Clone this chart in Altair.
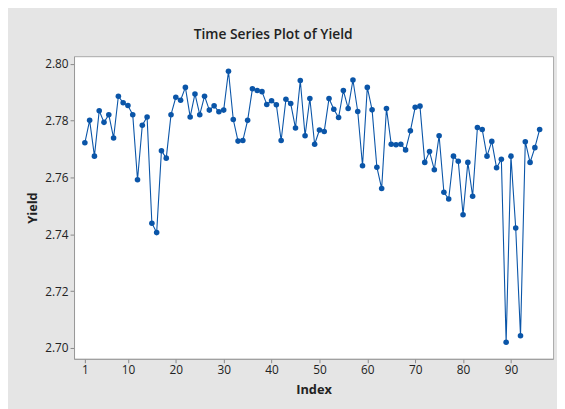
import altair as alt
import pandas as pd

index = list(range(1, 97))
yield_values = [
    2.7722, 2.7801, 2.7675, 2.7835, 2.7794, 2.7821, 2.7739, 2.7886, 2.7863, 2.7853,
    2.7821, 2.7592, 2.7784, 2.7813, 2.7439, 2.7406, 2.7694, 2.7668, 2.7821, 2.7882,
    2.7872, 2.7917, 2.7813, 2.7894, 2.7821, 2.7886, 2.7837, 2.7852, 2.7831, 2.7837,
    2.7974, 2.7804, 2.7728, 2.7730, 2.7801, 2.7912, 2.7906, 2.7902, 2.7857, 2.7870,
    2.7856, 2.7730, 2.7875, 2.7860, 2.7774, 2.7941, 2.7747, 2.7878, 2.7717, 2.7767,
    2.7762, 2.7878, 2.7840, 2.7811, 2.7906, 2.7843, 2.7943, 2.7832, 2.7641, 2.7917,
    2.7838, 2.7636, 2.7561, 2.7843, 2.7717, 2.7715, 2.7717, 2.7697, 2.7764, 2.7847,
    2.7851, 2.7653, 2.7691, 2.7627, 2.7747, 2.7548, 2.7524, 2.7675, 2.7657, 2.7469,
    2.7653, 2.7534, 2.7776, 2.7769, 2.7675, 2.7727, 2.7634, 2.7664, 2.7020, 2.7675,
    2.7422, 2.7043, 2.7726, 2.7653, 2.7705, 2.7769,
]
x_ticks = [1, 10, 20, 30, 40, 50, 60, 70, 80, 90]
y_ticks = [2.70, 2.72, 2.74, 2.76, 2.78, 2.80]

df = pd.DataFrame({"Index": index, "Yield": yield_values})

blue = "#0a55a8"
font = "Open Sans"

x_enc = alt.X(
    "Index:Q",
    scale=alt.Scale(domain=[-1.26, 98.8], nice=False, zero=False),
    axis=alt.Axis(
        values=x_ticks, title="Index", grid=False, labelFontSize=12,
        titleFontSize=13, titleFontWeight="bold", labelColor="#222",
        titleColor="#222", tickColor="#888", domainColor="#999",
        tickSize=4, labelPadding=2, titlePadding=8, labelFont=font, titleFont=font,
    ),
)
y_enc = alt.Y(
    "Yield:Q",
    scale=alt.Scale(domain=[2.69618, 2.80267], nice=False, zero=False),
    axis=alt.Axis(
        values=y_ticks, format=".2f", title="Yield", grid=False, labelFontSize=12,
        titleFontSize=13, titleFontWeight="bold", labelColor="#222",
        titleColor="#222", tickColor="#888", domainColor="#999",
        tickSize=4, labelPadding=2, titlePadding=5, labelFont=font, titleFont=font,
    ),
)

line = alt.Chart(df).mark_line(color=blue, strokeWidth=1.1).encode(x=x_enc, y=y_enc)
pts = alt.Chart(df).mark_point(filled=True, color=blue, size=32, opacity=1).encode(x=x_enc, y=y_enc)

chart = (
    alt.layer(line, pts)
    .properties(
        width=486,
        height=307,
        autosize=alt.AutoSizeParams(type="none"),
        padding={"left": 67, "top": 46, "right": 4, "bottom": 48},
        background="#e5e5e5",
        title=alt.TitleParams(
            "Time Series Plot of Yield", fontSize=14, fontWeight=600, font=font,
            color="#222", anchor="middle", dx=-41, offset=14,
        ),
    )
    .configure_view(fill="white", stroke="#a8a8a8", strokeWidth=1)
)

chart.save("out.html", embed_options={"renderer": "svg", "actions": False})
